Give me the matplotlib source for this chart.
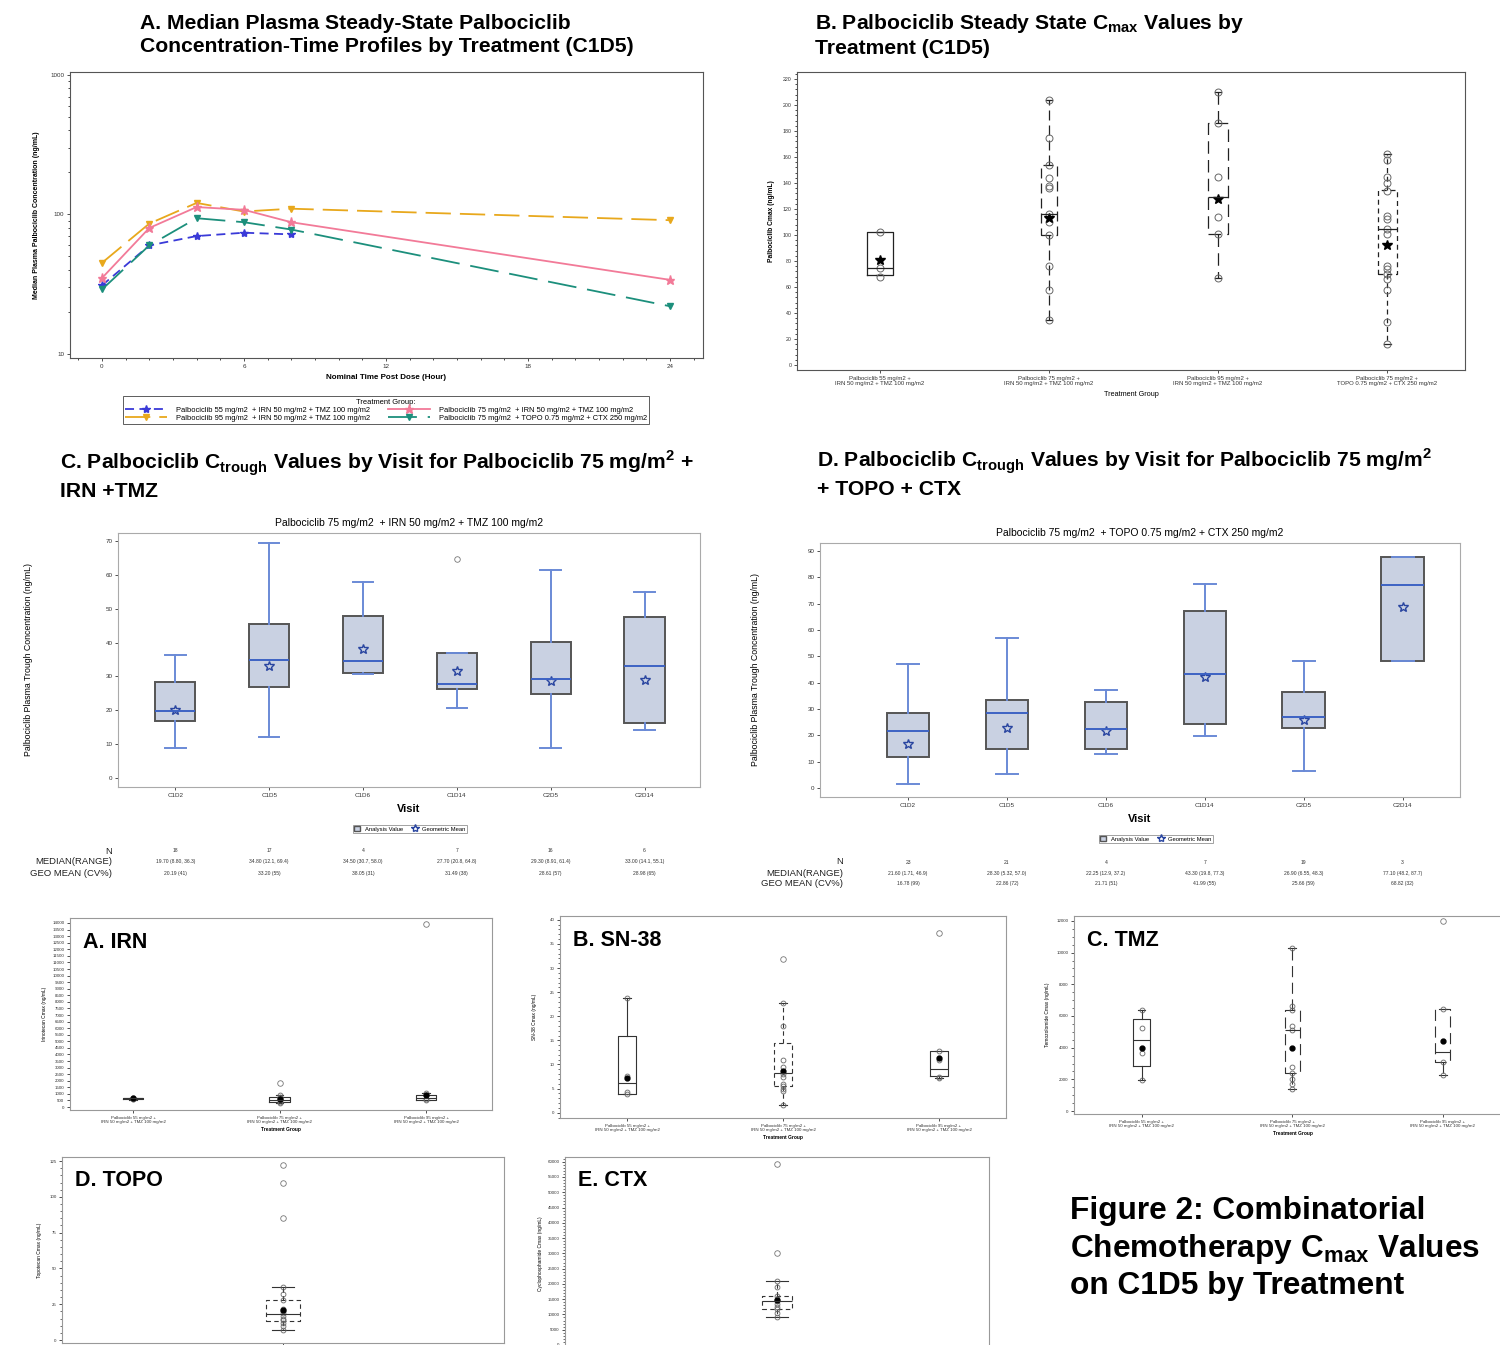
import numpy as np
import matplotlib.pyplot as plt
from matplotlib import transforms
from matplotlib.lines import Line2D
from matplotlib.patches import Patch
from matplotlib.ticker import MultipleLocator, NullFormatter

plt.rcParams['font.family'] = ['Liberation Sans', 'DejaVu Sans']
plt.rcParams['mathtext.fontset'] = 'custom'
plt.rcParams['mathtext.rm'] = 'Liberation Sans'
plt.rcParams['mathtext.bf'] = 'Liberation Sans:bold'
plt.rcParams['axes.linewidth'] = 0.8
plt.rcParams['axes.edgecolor'] = '#555555'

# ---------------- data ----------------
# panel A: median concentration-time profiles
time_h = [0, 2, 4, 6, 8, 24]
pk_55_irn = [31, 60, 70, 74, 72]          # no 24 h sample
pk_95_irn = [45, 86, 121, 105, 110, 91]
pk_75_irn = [35, 80, 113, 108, 88, 34]
pk_75_topo = [29, 60, 94, 88, 78, 22]
pk_labels = ["Palbociclib 55 mg/m2  + IRN 50 mg/m2 + TMZ 100 mg/m2",
             "Palbociclib 95 mg/m2  + IRN 50 mg/m2 + TMZ 100 mg/m2",
             "Palbociclib 75 mg/m2  + IRN 50 mg/m2 + TMZ 100 mg/m2",
             "Palbociclib 75 mg/m2  + TOPO 0.75 mg/m2 + CTX 250 mg/m2"]

# panel B: palbociclib Cmax by treatment
grp4_labels = ["Palbociclib 55 mg/m2 +\nIRN 50 mg/m2 + TMZ 100 mg/m2",
               "Palbociclib 75 mg/m2 +\nIRN 50 mg/m2 + TMZ 100 mg/m2",
               "Palbociclib 95 mg/m2 +\nIRN 50 mg/m2 + TMZ 100 mg/m2",
               "Palbociclib 75 mg/m2 +\nTOPO 0.75 mg/m2 + CTX 250 mg/m2"]
cmax_q1 = [69, 100, 101, 70]
cmax_med = [75, 116, 129, 105]
cmax_q3 = [102, 154, 186, 135]
cmax_lo = [69, 35, 67, 16]
cmax_hi = [102, 204, 210, 162]
cmax_mean = [81, 113, 128, 92]
cmax_pts = [[102, 75, 68],
            [204, 175, 154, 144, 138, 136, 116, 110, 100, 76, 58, 35],
            [210, 186, 145, 114, 101, 67],
            [162, 158, 145, 140, 134, 115, 112, 105, 101, 76, 74, 70, 66, 58, 33, 16]]

# panels C / D: trough by visit
visits = ["C1D2", "C1D5", "C1D6", "C1D14", "C2D5", "C2D14"]
irn_q1 = [16.8, 27.0, 30.9, 26.2, 24.8, 16.3]
irn_med = [19.7, 34.8, 34.5, 27.7, 29.3, 33.0]
irn_q3 = [28.3, 45.4, 48.0, 36.8, 40.2, 47.6]
irn_lo = [8.8, 12.1, 30.7, 20.8, 8.91, 14.1]
irn_hi = [36.3, 69.4, 58.0, 36.8, 61.4, 55.1]
irn_gmean = [20.19, 33.20, 38.05, 31.49, 28.61, 28.98]
irn_fliers = [[], [], [], [64.8], [], []]
irn_n = ["18", "17", "4", "7", "16", "6"]
irn_medrange = ["19.70 (8.80, 36.3)", "34.80 (12.1, 69.4)", "34.50 (30.7, 58.0)",
                "27.70 (20.8, 64.8)", "29.30 (8.91, 61.4)", "33.00 (14.1, 55.1)"]
irn_geo = ["20.19 (41)", "33.20 (55)", "38.05 (31)", "31.49 (38)", "28.61 (57)", "28.98 (65)"]

topo_q1 = [11.8, 14.7, 14.8, 24.4, 22.8, 48.2]
topo_med = [21.6, 28.3, 22.25, 43.3, 26.9, 77.1]
topo_q3 = [28.4, 33.6, 32.5, 67.2, 36.6, 87.7]
topo_lo = [1.71, 5.32, 12.9, 19.8, 6.55, 48.2]
topo_hi = [46.9, 57.0, 37.2, 77.3, 48.3, 87.7]
topo_gmean = [16.78, 22.86, 21.71, 41.99, 25.66, 68.82]
topo_fliers = [[], [], [], [], [], []]
topo_n = ["23", "21", "4", "7", "19", "3"]
topo_medrange = ["21.60 (1.71, 46.9)", "28.30 (5.32, 57.0)", "22.25 (12.9, 37.2)",
                 "43.30 (19.8, 77.3)", "26.90 (6.55, 48.3)", "77.10 (48.2, 87.7)"]
topo_geo = ["16.78 (99)", "22.86 (72)", "21.71 (51)", "41.99 (55)", "25.66 (59)", "68.82 (32)"]

# bottom panels: chemotherapy Cmax
grp3_labels = grp4_labels[:3]
irn_c = dict(q1=[600, 380, 560], med=[650, 560, 700], q3=[690, 800, 950],
             lo=[570, 300, 500], hi=[720, 950, 1100], mean=[650, 620, 900],
             fliers=[[], [1800], [13900]],
             pts=[[640, 620, 660], [950, 800, 700, 600, 500, 400, 300], [1100, 900, 600, 500]])
sn38_c = dict(q1=[3.9, 5.5, 7.7], med=[6.1, 8.2, 9.0], q3=[15.9, 14.5, 12.7],
              lo=[3.9, 1.7, 7.1], hi=[23.7, 22.8, 12.7], mean=[7.3, 8.6, 11.3],
              fliers=[[], [31.8], [37.2]],
              pts=[[23.7, 7.6, 4.2, 3.9], [22.8, 18, 11, 9.5, 8, 7.5, 6, 5.5, 5, 4.5, 1.7],
                   [12.7, 11, 7.5, 7.1]])
tmz_c = dict(q1=[2850, 2370, 3100], med=[4500, 5090, 3730], q3=[5800, 6350, 6430],
             lo=[1990, 1420, 2300], hi=[6390, 10280, 6430], mean=[3980, 4000, 4420],
             fliers=[[], [], [12000]],
             pts=[[6390, 5260, 3670, 1990], [10280, 6600, 6350, 5400, 5100, 2800, 2370, 2000, 1700, 1420],
                  [6430, 3100, 2300]])
topo_c = dict(q1=[13.4], med=[18.5], q3=[27.8], lo=[7.4], hi=[37.0], mean=[20.8],
              fliers=[[122, 110, 85]],
              pts=[[37, 32, 28, 22, 20, 19, 17, 15, 14, 12, 10, 7.4]])
ctx_c = dict(q1=[11700], med=[14300], q3=[16000], lo=[9000], hi=[20800], mean=[14600],
             fliers=[[59200, 30000]],
             pts=[[20800, 18900, 16000, 15000, 14300, 13500, 12400, 11700, 10500, 9000]])

# ---------------- figure ----------------
W, H = 1500, 1345
fig = plt.figure(figsize=(W / 100, H / 100), dpi=100)


def px_axes(x0, y0, x1, y1):
    return fig.add_axes([x0 / W, 1 - y1 / H, (x1 - x0) / W, (y1 - y0) / H])


def ftext(x, y, s, **kw):
    fig.text(x / W, 1 - y / H, s, **kw)


def small_ticks(ax, size):
    ax.tick_params(labelsize=size, length=2.5, width=0.6, pad=1.5, colors='#333333')


# panel titles
ttl = dict(fontsize=15.2, fontweight='bold', va='top', ha='left', linespacing=1.25)
ftext(140, 14, "A. Median Plasma Steady-State Palbociclib\nConcentration-Time Profiles by Treatment (C1D5)", **ttl)
ftext(815, 12, "B. Palbociclib Steady State C$_{\\mathbf{max}}$ Values by\nTreatment (C1D5)", **ttl)
ftext(60, 449, "C. Palbociclib C$_{\\mathbf{trough}}$ Values by Visit for Palbociclib 75 mg/m$^{\\mathbf{2}}$ +\nIRN +TMZ", **ttl)
ftext(817, 447, "D. Palbociclib C$_{\\mathbf{trough}}$ Values by Visit for Palbociclib 75 mg/m$^{\\mathbf{2}}$\n+ TOPO + CTX", **ttl)
ftext(1070, 1196, "Figure 2: Combinatorial\nChemotherapy C$_{\\mathbf{max}}$ Values\non C1D5 by Treatment",
      fontsize=22.8, fontweight='bold', va='top', ha='left', linespacing=1.22)

# ---- panel A ----
axA = px_axes(70, 72, 703, 358)
axA.set_yscale('log')
styles = [
    (time_h[:5], pk_55_irn, '#3a3ad8', (0, (5, 3)), '*', 6, '#3a3ad8'),
    (time_h, pk_95_irn, '#e8a81c', (0, (14, 5)), 'v', 5, '#e8a81c'),
    (time_h, pk_75_irn, '#f27a98', '-', '*', 6.5, '#f27a98'),
    (time_h, pk_75_topo, '#1c8f7c', (0, (16, 6)), 'v', 4, '#1c8f7c'),
]
handles = []
for (x, y, c, ls, mk, ms, mc), lab in zip(styles, pk_labels):
    ln, = axA.plot(x, y, color=c, ls=ls, lw=1.3, marker=mk, ms=ms, mfc=mc, mec=mc, label=lab)
    handles.append(ln)
axA.set_xlim(-1.35, 25.4)
axA.set_ylim(9.36, 1050)
axA.set_xticks([0, 6, 12, 18, 24])
axA.xaxis.set_minor_locator(MultipleLocator(1))
axA.set_yticks([10, 100, 1000])
axA.set_yticklabels(['10', '100', '1000'])
axA.yaxis.set_minor_formatter(NullFormatter())
small_ticks(axA, 4.5)
axA.tick_params(which='minor', length=1.5, width=0.5)
axA.set_xlabel("Nominal Time Post Dose (Hour)", fontsize=5.8, fontweight='bold', labelpad=4)
axA.set_ylabel("Median Plasma Palbociclib Concentration (ng/mL)", fontsize=5, fontweight='bold')
axA.yaxis.set_label_coords((40 - 70) / 633, 0.5)
legA = fig.legend(handles=handles, loc='center', bbox_to_anchor=(386 / W, 1 - 410 / H),
                  ncol=2, fontsize=5.4, title="Treatment Group:", title_fontsize=5.4,
                  frameon=True, fancybox=False, edgecolor='#333333', handlelength=5.5,
                  borderpad=0.3, labelspacing=0.1, columnspacing=2.5, handletextpad=1.2)
legA.get_frame().set_linewidth(0.7)


# ---- helpers for box plots ----
def draw_boxes(ax, q1, med, q3, lo, hi, fliers, positions, widths, styles_ls,
               edge='black', lw=0.9, capw=0.04, face=None, med_c=None, wh_c=None):
    for i, p in enumerate(positions):
        st = dict(q1=q1[i], med=med[i], q3=q3[i], whislo=lo[i], whishi=hi[i], fliers=fliers[i])
        ls = styles_ls[i]
        ax.bxp([st], positions=[p], widths=[widths[i]], capwidths=[capw], patch_artist=face is not None,
               boxprops=dict(facecolor=face, edgecolor=edge, lw=lw, ls=ls) if face is not None
               else dict(color=edge, lw=lw, ls=ls),
               whiskerprops=dict(color=wh_c or edge, lw=lw, ls=ls),
               capprops=dict(color=wh_c or edge, lw=lw),
               medianprops=dict(color=med_c or edge, lw=lw),
               flierprops=dict(marker='o', mfc='none', mec='#777777', ms=4, mew=0.6),
               manage_ticks=False)


# ---- panel B ----
axB = px_axes(797, 72, 1465, 370)
posB = np.arange(4)
draw_boxes(axB, cmax_q1, cmax_med, cmax_q3, cmax_lo, cmax_hi, [[], [], [], []], posB,
           [0.155, 0.1, 0.12, 0.11], ['-', (0, (8, 4)), (0, (10, 5)), (0, (4, 3))],
           edge='#222222', lw=0.9, capw=0.04)
for p, pts in zip(posB, cmax_pts):
    axB.plot([p] * len(pts), pts, 'o', mfc='none', mec='#666666', ms=5, mew=0.7)
axB.plot(posB, cmax_mean, '*', color='black', ms=7.5)
axB.set_xlim(-0.49, 3.46)
axB.set_ylim(-3.8, 225.4)
axB.set_yticks(np.arange(0, 221, 20))
axB.yaxis.set_minor_locator(MultipleLocator(4))
axB.set_xticks(posB)
axB.set_xticklabels(grp4_labels)
small_ticks(axB, 4.3)
axB.tick_params(axis='y', labelsize=3.8)
axB.tick_params(which='minor', length=1.5, width=0.5)
axB.set_xlabel("Treatment Group", fontsize=5.2, labelpad=3)
axB.set_ylabel("Palbociclib Cmax (ng/mL)", fontsize=4.8, fontweight='bold')
axB.yaxis.set_label_coords((775 - 797) / 668, 0.5)


# ---- panels C / D ----
def trough_panel(box, ylim, ymax_tick, subtitle, q1, med, q3, lo, hi, gm, fl, n, mr, geo,
                 table_y, label_x, leg_xy, ylab_x):
    x0, y0, x1, y1 = box
    ax = px_axes(x0, y0, x1, y1)
    pos = np.arange(6)
    draw_boxes(ax, q1, med, q3, lo, hi, fl, pos, [0.43] * 6, ['-'] * 6,
               edge='#555555', lw=1.4, capw=0.22, face='#c9d1e2', med_c='#3d62c4', wh_c='#6a8ad6')
    ax.plot(pos, gm, '*', mfc='none', mec='#2945a0', ms=7, mew=1.0)
    ax.set_xlim(ylim[0], ylim[1])
    ax.set_ylim(ylim[2], ylim[3])
    ax.set_yticks(np.arange(0, ymax_tick + 1, 10))
    ax.set_xticks(pos)
    ax.set_xticklabels(visits)
    small_ticks(ax, 4.5)
    for s in ax.spines.values():
        s.set_color('#aaaaaa')
    ax.set_title(subtitle, fontsize=7.5, pad=5)
    ax.set_xlabel("Visit", fontsize=8, fontweight='bold', labelpad=5)
    ax.set_ylabel("Palbociclib Plasma Trough Concentration (ng/mL)", fontsize=6.3)
    ax.yaxis.set_label_coords((ylab_x - x0) / (x1 - x0), 0.5)
    # legend
    hnd = [Patch(facecolor='#c9d1e2', edgecolor='#555555', lw=1.0, label='Analysis Value'),
           Line2D([], [], ls='none', marker='*', mfc='none', mec='#2945a0', ms=6, label='Geometric Mean')]
    lg = fig.legend(handles=hnd, loc='center', bbox_to_anchor=(leg_xy[0] / W, 1 - leg_xy[1] / H),
                    ncol=2, fontsize=4.2, frameon=True, fancybox=False, edgecolor='#777777',
                    handlelength=1.0, handleheight=0.8, borderpad=0.25, columnspacing=1.5)
    lg.get_frame().set_linewidth(0.6)
    # table
    tr = transforms.blended_transform_factory(ax.transData, fig.transFigure)
    for row, (lab, vals) in enumerate(zip(["N", "MEDIAN(RANGE)", "GEO MEAN (CV%)"], [n, mr, geo])):
        yy = 1 - table_y[row] / H
        fig.text(label_x / W, yy, lab, fontsize=6.8, ha='right', va='center', color='#222222')
        for p, v in zip(pos, vals):
            ax.text(p, yy, v, transform=tr, fontsize=3.6, ha='center', va='center', color='#333333')
    return ax


trough_panel((118, 533, 700, 787), (-0.61, 5.59, -2.66, 72.4), 70,
             "Palbociclib 75 mg/m2  + IRN 50 mg/m2 + TMZ 100 mg/m2",
             irn_q1, irn_med, irn_q3, irn_lo, irn_hi, irn_gmean, irn_fliers,
             irn_n, irn_medrange, irn_geo, [851, 862, 873], 112, (410, 829), 33)
trough_panel((820, 543, 1460, 797), (-0.89, 5.58, -3.4, 93.0), 90,
             "Palbociclib 75 mg/m2  + TOPO 0.75 mg/m2 + CTX 250 mg/m2",
             topo_q1, topo_med, topo_q3, topo_lo, topo_hi, topo_gmean, topo_fliers,
             topo_n, topo_medrange, topo_geo, [862, 873, 884], 843, (1156, 839), 760)


# ---- bottom chemotherapy panels ----
def chemo_panel(box, d, labels, xlim, ylim, ystep, ylabel, title, widths, lss, ylab_x,
                minor=None, show_x=True):
    x0, y0, x1, y1 = box
    ax = px_axes(x0, y0, x1, y1)
    pos = np.arange(len(labels))
    draw_boxes(ax, d['q1'], d['med'], d['q3'], d['lo'], d['hi'], d['fliers'], pos, widths, lss,
               edge='#333333', lw=0.8, capw=0.05)
    for p, pts in zip(pos, d['pts']):
        ax.plot([p] * len(pts), pts, 'o', mfc='none', mec='#666666', ms=3.5, mew=0.6)
    ax.plot(pos, d['mean'], 'o', color='black', ms=3.5)
    ax.set_xlim(*xlim)
    ax.set_ylim(*ylim)
    ax.yaxis.set_major_locator(MultipleLocator(ystep))
    if minor:
        ax.yaxis.set_minor_locator(MultipleLocator(minor))
    ax.set_xticks(pos)
    small_ticks(ax, 3.2)
    ax.tick_params(which='minor', length=1.3, width=0.4)
    for s in ax.spines.values():
        s.set_color('#999999')
    if show_x:
        ax.set_xticklabels(labels)
        ax.set_xlabel("Treatment Group", fontsize=3.5, fontweight='bold', labelpad=2)
    else:
        ax.set_xticklabels([])
    ax.set_ylabel(ylabel, fontsize=3.5)
    ax.yaxis.set_label_coords((ylab_x - x0) / (x1 - x0), 0.5)
    ax.text(13 / (x1 - x0), 1 - 24 / (y1 - y0), title, transform=ax.transAxes, fontsize=15.5,
            fontweight='bold', ha='left', va='center')
    return ax


chemo_panel((70, 918, 492, 1110), irn_c, grp3_labels, (-0.43, 2.45), (-227, 14380), 500,
            "Irinotecan Cmax (ng/mL)", "A. IRN", [0.14, 0.14, 0.14], ['-', '-', '-'], 47)
chemo_panel((560, 916, 1006, 1118), sn38_c, grp3_labels, (-0.43, 2.43), (-1.1, 40.8), 5,
            "SN-38 Cmax (ng/mL)", "B. SN-38", [0.12, 0.12, 0.12], ['-', (0, (4, 3)), '-'], 537, minor=1)
chemo_panel((1074, 916, 1512, 1114), tmz_c, grp3_labels, (-0.45, 2.46), (-188, 12314), 2000,
            "Temozolomide Cmax (ng/mL)", "C. TMZ", [0.11, 0.1, 0.1],
            ['-', (0, (10, 5)), (0, (10, 5))], 1050, minor=500)
chemo_panel((62, 1157, 504, 1343), topo_c, ["Palbociclib 75 mg/m2 +\nTOPO 0.75 mg/m2 + CTX 250 mg/m2"],
            (-0.5, 0.5), (-2, 127.8), 25, "Topotecan Cmax (ng/mL)", "D. TOPO", [0.077], [(0, (4, 3))],
            42, minor=5, show_x=False)
chemo_panel((565, 1157, 989, 1350), ctx_c, ["Palbociclib 75 mg/m2 +\nTOPO 0.75 mg/m2 + CTX 250 mg/m2"],
            (-0.5, 0.5), (-1640, 61540), 5000, "Cyclophosphamide Cmax (ng/mL)", "E. CTX", [0.073],
            [(0, (4, 3))], 543, minor=1000, show_x=False)

fig.savefig("out.png", dpi=100)
